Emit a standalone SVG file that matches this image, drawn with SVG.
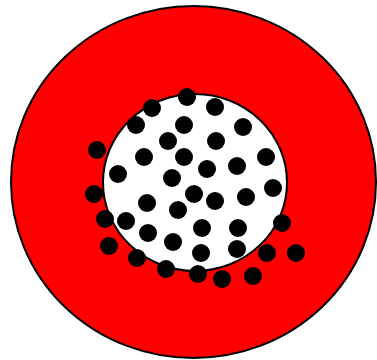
<svg xmlns="http://www.w3.org/2000/svg" width="377" height="360" viewBox="0 0 377 360">
<style>
.d{fill:#000}
</style>
<rect width="377" height="360" fill="#fff"/>
<g id="outer"><ellipse cx="193.5" cy="182" rx="182.5" ry="176" fill="#f00" stroke="#000" stroke-width="2"/></g>
<g id="inner"><ellipse cx="195" cy="182.5" rx="92" ry="88.5" fill="#fff" stroke="#000" stroke-width="2"/></g>
<g id="dots">
<circle class="d" cx="187" cy="97" r="9"/>
<circle class="d" cx="152" cy="108" r="9"/>
<circle class="d" cx="215" cy="107" r="9"/>
<circle class="d" cx="136" cy="125" r="9"/>
<circle class="d" cx="184" cy="125" r="9"/>
<circle class="d" cx="243" cy="127" r="9"/>
<circle class="d" cx="168" cy="141" r="9"/>
<circle class="d" cx="216" cy="141" r="9"/>
<circle class="d" cx="97" cy="150" r="9"/>
<circle class="d" cx="144" cy="157" r="9"/>
<circle class="d" cx="184" cy="157" r="9"/>
<circle class="d" cx="266" cy="157" r="9"/>
<circle class="d" cx="237" cy="166" r="9"/>
<circle class="d" cx="207" cy="169" r="9"/>
<circle class="d" cx="118" cy="174" r="9"/>
<circle class="d" cx="172" cy="178" r="9"/>
<circle class="d" cx="273" cy="188" r="9"/>
<circle class="d" cx="94" cy="194" r="9"/>
<circle class="d" cx="194" cy="194" r="9"/>
<circle class="d" cx="246" cy="197" r="9"/>
<circle class="d" cx="215" cy="201" r="9"/>
<circle class="d" cx="147" cy="203" r="9"/>
<circle class="d" cx="178" cy="210" r="9"/>
<circle class="d" cx="105" cy="219" r="9"/>
<circle class="d" cx="126" cy="221" r="9"/>
<circle class="d" cx="282" cy="223" r="9"/>
<circle class="d" cx="202" cy="228" r="9"/>
<circle class="d" cx="238" cy="228" r="9"/>
<circle class="d" cx="148" cy="233" r="9"/>
<circle class="d" cx="173" cy="242" r="9"/>
<circle class="d" cx="109" cy="246" r="9"/>
<circle class="d" cx="237" cy="249" r="9"/>
<circle class="d" cx="201" cy="253" r="9"/>
<circle class="d" cx="267" cy="253" r="9"/>
<circle class="d" cx="296" cy="253" r="9"/>
<circle class="d" cx="137" cy="258" r="9"/>
<circle class="d" cx="166" cy="269" r="9"/>
<circle class="d" cx="198" cy="274" r="9"/>
<circle class="d" cx="253" cy="276" r="9"/>
<circle class="d" cx="222" cy="279" r="9"/>
</g>
</svg>
